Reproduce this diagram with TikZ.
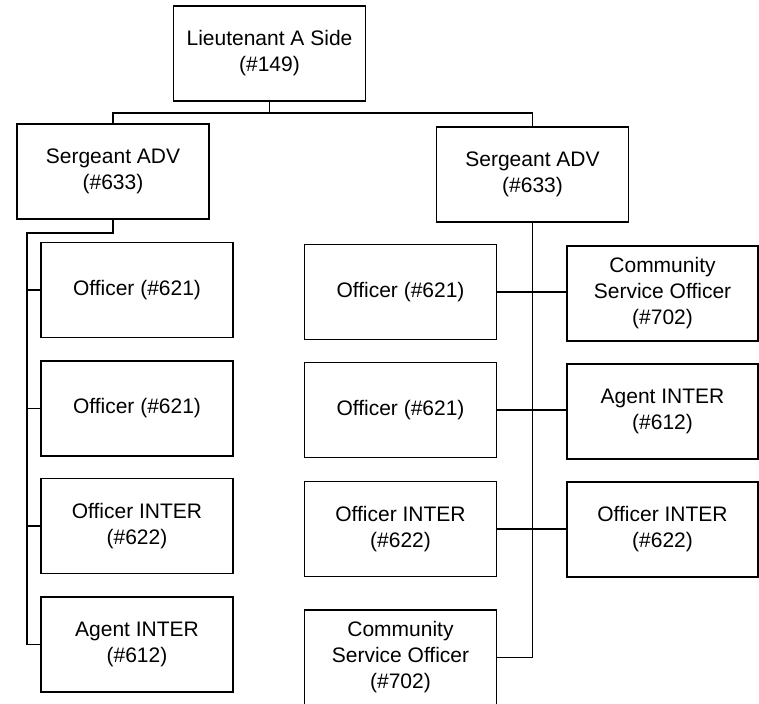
\documentclass[tikz,border=0pt]{standalone}
\usepackage{fontspec}
\setmainfont{Liberation Sans}
\usepackage{tikz}

\begin{document}
\begin{tikzpicture}[x=1pt, y=-1pt,
    post/.style={draw, line width=1.5pt, align=center, inner sep=0pt,
        minimum width=192pt, minimum height=95pt,
        font=\fontsize{21}{26}\selectfont},
    link/.style={line width=1.5pt}]

        \useasboundingbox (0,0) rectangle (759,703);
        \clip (0,0) rectangle (759,703);

        %% ── Commandement ───────────────────────────────────────────────────
        \node[post] (lt)  at (269.5,53.5) {Lieutenant A Side\\(\#149)};
        \node[post] (sgL) at (113,171.5)  {Sergeant ADV\\(\#633)};
        \node[post] (sgR) at (532.5,174.5) {Sergeant ADV\\(\#633)};

        \coordinate (bus) at (0,113);
        \draw[link] (lt.south) -- (lt.south |- bus) -| (sgL.north);
        \draw[link] (lt.south |- bus) -| (sgR.north);

        %% ── Colonne gauche ─────────────────────────────────────────────────
        \node[post] (oL1) at (137,290)   {Officer (\#621)};
        \node[post] (oL2) at (137,408.5) {Officer (\#621)};
        \node[post] (oL3) at (137,526)   {Officer INTER\\(\#622)};
        \node[post] (oL4) at (137,644.5) {Agent INTER\\(\#612)};

        \coordinate (lspine) at (27,233);
        \draw[link] (sgL.south) |- (lspine) |- (oL4.west);
        \draw[link] (oL1.west) -- (oL1.west -| lspine);
        \draw[link] (oL2.west) -- (oL2.west -| lspine);
        \draw[link] (oL3.west) -- (oL3.west -| lspine);

        %% ── Colonne du milieu ──────────────────────────────────────────────
        \node[post] (oM1) at (400.5,292)   {Officer (\#621)};
        \node[post] (oM2) at (400.5,410)   {Officer (\#621)};
        \node[post] (oM3) at (400.5,529)   {Officer INTER\\(\#622)};
        \node[post] (oM4) at (400.5,657.5) {Community\\Service Officer\\(\#702)};

        \draw[link] (sgR.south) |- (oM4.east);

        %% ── Colonne droite ─────────────────────────────────────────────────
        \node[post, minimum width=191pt] (oR1) at (662.5,293.5)
            {Community\\Service Officer\\(\#702)};
        \node[post, minimum width=191pt] (oR2) at (662.5,411.5)
            {Agent INTER\\(\#612)};
        \node[post, minimum width=191pt] (oR3) at (662.5,529.5)
            {Officer INTER\\(\#622)};

        \draw[link] (oM1.east) -- (oM1.east -| oR1.west);
        \draw[link] (oM2.east) -- (oM2.east -| oR2.west);
        \draw[link] (oM3.east) -- (oM3.east -| oR3.west);

    \end{tikzpicture}
\end{document}
